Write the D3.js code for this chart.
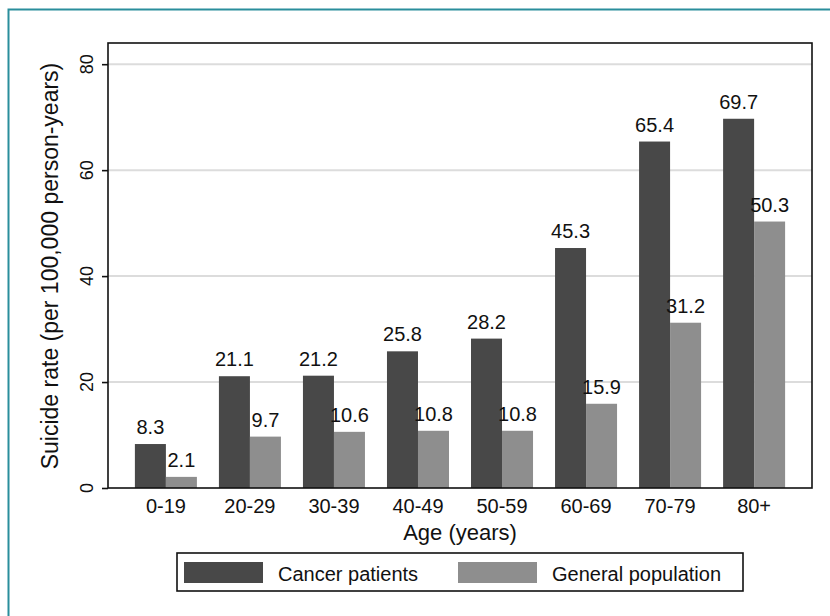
<!DOCTYPE html>
<html>
<head>
<meta charset="utf-8">
<script src="https://cdn.jsdelivr.net/npm/d3@7"></script>
<style>
  body { margin: 0; background: #fff; }
  text { font-family: "Liberation Sans", Arial, sans-serif; fill: #111; }
</style>
</head>
<body>
<div id="chart"></div>
<script>
const width = 830;
const height = 616;

// data
const ageGroups = ['0-19', '20-29', '30-39', '40-49', '50-59', '60-69', '70-79', '80+'];
const seriesNames = ['Cancer patients', 'General population'];
const cancerRates = [8.3, 21.1, 21.2, 25.8, 28.2, 45.3, 65.4, 69.7];
const generalRates = [2.1, 9.7, 10.6, 10.8, 10.8, 15.9, 31.2, 50.3];
const yTicks = [0, 20, 40, 60, 80];

const colors = ['#484848', '#8e8e8e'];

// plot frame
const plotLeft = 108, plotRight = 812, plotTop = 43, plotBottom = 488;

const svg = d3.select('#chart')
  .append('svg')
  .attr('width', width)
  .attr('height', height);

// teal page border
svg.append('rect')
  .attr('x', 8.5)
  .attr('y', 9.5)
  .attr('width', width + 10)
  .attr('height', height + 10)
  .attr('fill', 'none')
  .attr('stroke', '#2a8e9c')
  .attr('stroke-width', 2);

const x = d3.scaleBand()
  .domain(ageGroups)
  .range([plotLeft, plotRight])
  .paddingInner(0.262)
  .paddingOuter(0.32);

const xSub = d3.scaleBand()
  .domain(seriesNames)
  .range([0, x.bandwidth()]);

const y = d3.scaleLinear()
  .domain([0, 84])
  .range([plotBottom, plotTop]);

// grid
svg.append('g')
  .selectAll('line')
  .data(yTicks.filter(d => d > 0))
  .enter()
  .append('line')
  .attr('x1', plotLeft)
  .attr('x2', plotRight)
  .attr('y1', d => y(d))
  .attr('y2', d => y(d))
  .attr('stroke', '#dcdcdc')
  .attr('stroke-width', 2);

// bars
const rows = ageGroups.map((g, i) => ({
  group: g,
  values: [
    { name: seriesNames[0], value: cancerRates[i] },
    { name: seriesNames[1], value: generalRates[i] }
  ]
}));

const groups = svg.append('g')
  .selectAll('g')
  .data(rows)
  .enter()
  .append('g')
  .attr('transform', d => `translate(${x(d.group)},0)`);

groups.selectAll('rect')
  .data(d => d.values)
  .enter()
  .append('rect')
  .attr('x', d => xSub(d.name))
  .attr('y', d => y(d.value))
  .attr('width', xSub.bandwidth())
  .attr('height', d => y(0) - y(d.value))
  .attr('fill', (d, i) => colors[i]);

groups.selectAll('text')
  .data(d => d.values)
  .enter()
  .append('text')
  .attr('x', d => xSub(d.name) + xSub.bandwidth() / 2)
  .attr('y', d => y(d.value) - 10)
  .attr('text-anchor', 'middle')
  .style('font-size', '20px')
  .text(d => d.value.toFixed(1));

// frame
svg.append('rect')
  .attr('x', plotLeft)
  .attr('y', plotTop)
  .attr('width', plotRight - plotLeft)
  .attr('height', plotBottom - plotTop)
  .attr('fill', 'none')
  .attr('stroke', '#111')
  .attr('stroke-width', 1.6);

// y axis
const yAxis = svg.append('g')
  .attr('transform', `translate(${plotLeft},0)`)
  .call(d3.axisLeft(y).tickValues(yTicks).tickSize(6).tickFormat(''));
yAxis.select('.domain').remove();
yAxis.selectAll('line').attr('stroke', '#111').attr('stroke-width', 1.6);

svg.append('g')
  .selectAll('text')
  .data(yTicks)
  .enter()
  .append('text')
  .attr('transform', d => `translate(93,${y(d)}) rotate(-90)`)
  .attr('text-anchor', 'middle')
  .style('font-size', '18px')
  .text(d => d);

svg.append('text')
  .attr('transform', `translate(58,${(60 + 472) / 2}) rotate(-90)`)
  .attr('text-anchor', 'middle')
  .style('font-size', '23px')
  .text('Suicide rate (per 100,000 person-years)');

// x axis labels
svg.append('g')
  .selectAll('text')
  .data(ageGroups)
  .enter()
  .append('text')
  .attr('x', d => x(d) + x.bandwidth() / 2)
  .attr('y', 513)
  .attr('text-anchor', 'middle')
  .style('font-size', '20px')
  .text(d => d);

svg.append('text')
  .attr('x', (plotLeft + plotRight) / 2)
  .attr('y', 540)
  .attr('text-anchor', 'middle')
  .style('font-size', '22px')
  .text('Age (years)');

// legend
const legend = svg.append('g');
legend.append('rect')
  .attr('x', 177)
  .attr('y', 553)
  .attr('width', 566)
  .attr('height', 38)
  .attr('fill', '#fff')
  .attr('stroke', '#111')
  .attr('stroke-width', 1.6);

const legendX = [184, 458];
const legendItems = legend.selectAll('g')
  .data(seriesNames)
  .enter()
  .append('g')
  .attr('transform', (d, i) => `translate(${legendX[i]},0)`);

legendItems.append('rect')
  .attr('x', 0)
  .attr('y', 562)
  .attr('width', 79)
  .attr('height', 21)
  .attr('fill', (d, i) => colors[i]);

legendItems.append('text')
  .attr('x', 94)
  .attr('y', 581)
  .style('font-size', '20px')
  .text(d => d);
</script>
</body>
</html>
